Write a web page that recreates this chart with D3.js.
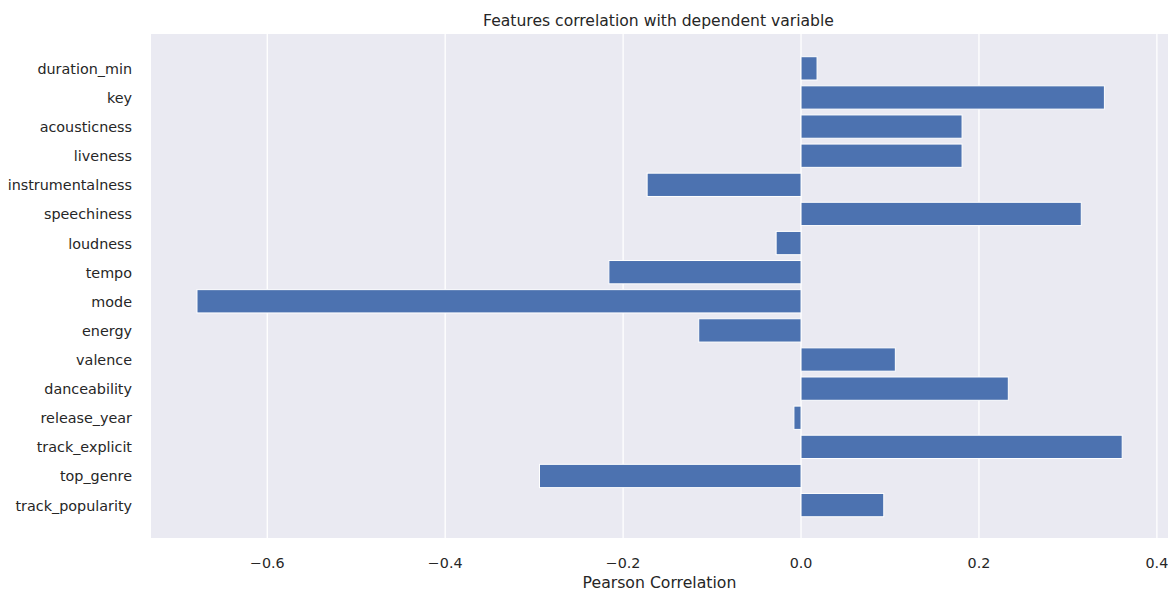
<!DOCTYPE html>
<html>
<head>
<meta charset="utf-8">
<script src="https://cdn.jsdelivr.net/npm/d3@7"></script>
<style>
    body { margin: 0; background: #fff; }
    text { font-family: "DejaVu Sans", sans-serif; fill: #262626; }
</style>
</head>
<body>
<div id="chart"></div>
<script>
// features from bottom (index 0) to top
const features = ["track_popularity", "top_genre", "track_explicit", "release_year", "danceability",
    "valence", "energy", "mode", "tempo", "loudness", "speechiness", "instrumentalness",
    "liveness", "acousticness", "key", "duration_min"];
const correlation = [0.093, -0.294, 0.361, -0.008, 0.233,
    0.106, -0.115, -0.679, -0.216, -0.028, 0.315, -0.173,
    0.181, 0.181, 0.341, 0.018];
const xTicks = [-0.6, -0.4, -0.2, 0.0, 0.2, 0.4];

const width = 1168, height = 591;
const plotLeft = 151, plotRight = 1168, plotTop = 34, plotBottom = 538;

const svg = d3.select('#chart').append('svg')
    .attr('width', width)
    .attr('height', height);

const x = d3.scaleLinear().domain([-0.7307, 0.4125]).range([plotLeft, plotRight]);
const y = d3.scaleLinear().domain([-1.13, 16.18]).range([plotBottom, plotTop]);

svg.append('rect')
    .attr('x', plotLeft).attr('y', plotTop)
    .attr('width', plotRight - plotLeft).attr('height', plotBottom - plotTop)
    .attr('fill', '#eaeaf2');

// grid
svg.append('g')
    .selectAll('line')
    .data(xTicks)
    .join('line')
    .attr('x1', d => x(d)).attr('x2', d => x(d))
    .attr('y1', plotTop).attr('y2', plotBottom)
    .attr('stroke', '#fff')
    .attr('stroke-width', 1.3);

const barH = y(0) - y(0.8);

svg.append('g')
    .selectAll('rect')
    .data(correlation)
    .join('rect')
    .attr('x', d => x(Math.min(0, d)))
    .attr('y', (d, i) => y(i + 0.4))
    .attr('width', d => Math.abs(x(d) - x(0)))
    .attr('height', barH)
    .attr('fill', '#4c72b0')
    .attr('stroke', '#fff')
    .attr('stroke-width', 1);

// x axis labels
const fmt = d => (d < 0 ? '\u2212' : '') + Math.abs(d).toFixed(1);
svg.append('g')
    .selectAll('text')
    .data(xTicks)
    .join('text')
    .attr('x', d => x(d))
    .attr('y', 568)
    .attr('text-anchor', 'middle')
    .attr('font-size', 14.3)
    .text(fmt);

// y axis labels
svg.append('g')
    .selectAll('text')
    .data(features)
    .join('text')
    .attr('x', 132)
    .attr('y', (d, i) => y(i))
    .attr('dy', '0.38em')
    .attr('text-anchor', 'end')
    .attr('font-size', 14.35)
    .text(d => d);

svg.append('text')
    .attr('x', 658.5)
    .attr('y', 26)
    .attr('text-anchor', 'middle')
    .attr('font-size', 15.6)
    .text('Features correlation with dependent variable');

svg.append('text')
    .attr('x', 659.5)
    .attr('y', 588)
    .attr('text-anchor', 'middle')
    .attr('font-size', 15.7)
    .text('Pearson Correlation');
</script>
</body>
</html>
